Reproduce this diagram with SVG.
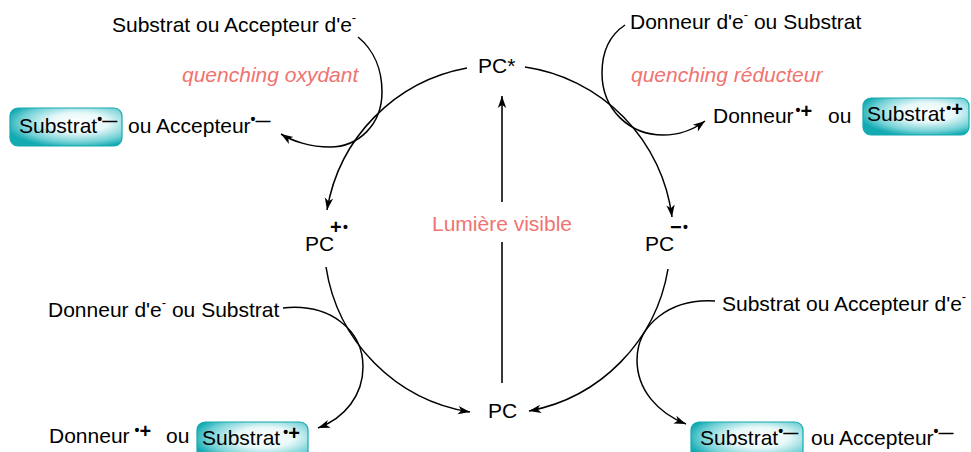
<svg xmlns="http://www.w3.org/2000/svg" width="971" height="452" viewBox="0 0 971 452">
<defs>
<radialGradient id="teal" cx="0.6" cy="0.4" r="0.65" fx="0.62" fy="0.38">
<stop offset="0" stop-color="#ffffff"/>
<stop offset="0.4" stop-color="#e8f8f9"/>
<stop offset="0.78" stop-color="#72d1d6"/>
<stop offset="1" stop-color="#14aab2"/>
</radialGradient>
<marker id="ah" markerUnits="userSpaceOnUse" markerWidth="14" markerHeight="10" refX="12" refY="5" orient="auto" overflow="visible">
<path d="M0,0.8 L12,5 L0,9.2 L3.2,5 Z" fill="#000"/>
</marker>
</defs>
<style>
text{font-family:"Liberation Sans",Arial,sans-serif;font-size:21px;fill:#000}
.q{font-style:italic;fill:#f07370}
.light{fill:#f07370}
.bu{font-size:14px;font-weight:bold}
.pm{font-size:20px;font-weight:bold}
.dash{font-size:15px;font-weight:bold}
.e{font-size:13px}
.box{fill:url(#teal);stroke:#17a9b0;stroke-width:1.2}
.c{fill:none;stroke:#000;stroke-width:1.5;marker-end:url(#ah)}
.v{fill:none;stroke:#222;stroke-width:1.8}
</style>
<rect width="971" height="452" fill="#fff"/>
<g id="connectors">
<path class="c" d="M467,68 A173.5,173.5 0 0 0 327,210"/>
<path class="c" d="M525,67 A173.5,173.5 0 0 1 672,217"/>
<path class="c" d="M326,267 A173.5,173.5 0 0 0 470,412"/>
<path class="c" d="M668,269 A173.5,173.5 0 0 1 529,411"/>
<line class="v" x1="502" y1="383" x2="502" y2="242"/>
<path class="v" d="M502,202 L502,96" style="marker-end:url(#ah)"/>
<path class="c" d="M358,37 C374,50 382,70 382,92 C382,125 358,147 330,147 C310,147 292,141 281,134"/>
<path class="c" d="M625,25 C610,35 602,52 602,73 C602,110 630,135 663,135 C680,135 693,130 705,121"/>
<path class="c" d="M283,308 C330,303 363,330 363,367 C363,395 345,418 318,428"/>
<path class="c" d="M715,301 C670,298 637,325 637,360 C637,390 658,413 686,424"/>
</g>
<g id="pc-star"><text x="478" y="73">PC*</text></g>
<g id="pc-plus"><text x="305" y="251">PC<tspan class="pm" x="330" y="234">+</tspan><tspan class="bu" x="343" y="232">•</tspan></text></g>
<g id="pc-minus"><text x="645" y="251">PC<tspan class="pm" x="670" y="234">−</tspan><tspan class="bu" x="683" y="232">•</tspan></text></g>
<g id="pc"><text x="488" y="418">PC</text></g>
<g id="light"><text class="light" x="502" y="231" text-anchor="middle">Lumière visible</text></g>
<g id="q-ox"><text class="q" x="182" y="82">quenching oxydant</text></g>
<g id="q-red"><text class="q" x="631" y="82">quenching réducteur</text></g>
<g id="tl-reagent"><text x="112" y="32">Substrat ou Accepteur d'e<tspan class="e" dy="-10">-</tspan></text></g>
<g id="tl-product">
<rect class="box" x="10" y="108" width="112" height="38" rx="8"/>
<text x="19" y="133">Substrat<tspan class="bu" dy="-9">•</tspan><tspan class="dash" dy="2">—</tspan></text>
<text x="128" y="133">ou Accepteur<tspan class="bu" dy="-9">•</tspan><tspan class="dash" dy="2">—</tspan></text>
</g>
<g id="tr-reagent"><text x="630" y="29">Donneur d'e<tspan class="e" dy="-10">-</tspan><tspan dy="10"> ou Substrat</tspan></text></g>
<g id="tr-product">
<text x="713" y="123">Donneur<tspan class="bu" dx="2" dy="-8">•</tspan><tspan class="pm" dy="3">+</tspan></text>
<text x="828" y="123">ou</text>
<rect class="box" x="863" y="98" width="106" height="37" rx="8"/>
<text x="867" y="121">Substrat<tspan class="bu" dx="1" dy="-8">•</tspan><tspan class="pm" dy="3">+</tspan></text>
</g>
<g id="bl-reagent"><text x="48" y="317">Donneur d'e<tspan class="e" dy="-10">-</tspan><tspan dy="10"> ou Substrat</tspan></text></g>
<g id="bl-product">
<text x="49" y="443">Donneur<tspan class="bu" dx="5" dy="-8">•</tspan><tspan class="pm" dy="3">+</tspan></text>
<text x="166" y="443">ou</text>
<rect class="box" x="197" y="422" width="111" height="40" rx="8"/>
<text x="202" y="445">Substrat<tspan class="bu" dx="3" dy="-8">•</tspan><tspan class="pm" dy="3">+</tspan></text>
</g>
<g id="br-reagent"><text x="722" y="311">Substrat ou Accepteur d'e<tspan class="e" dy="-10">-</tspan></text></g>
<g id="br-product">
<rect class="box" x="691" y="422" width="112" height="40" rx="8"/>
<text x="700" y="445">Substrat<tspan class="bu" dy="-9">•</tspan><tspan class="dash" dy="2">—</tspan></text>
<text x="811" y="445">ou Accepteur<tspan class="bu" dy="-9">•</tspan><tspan class="dash" dy="2">—</tspan></text>
</g>
</svg>
